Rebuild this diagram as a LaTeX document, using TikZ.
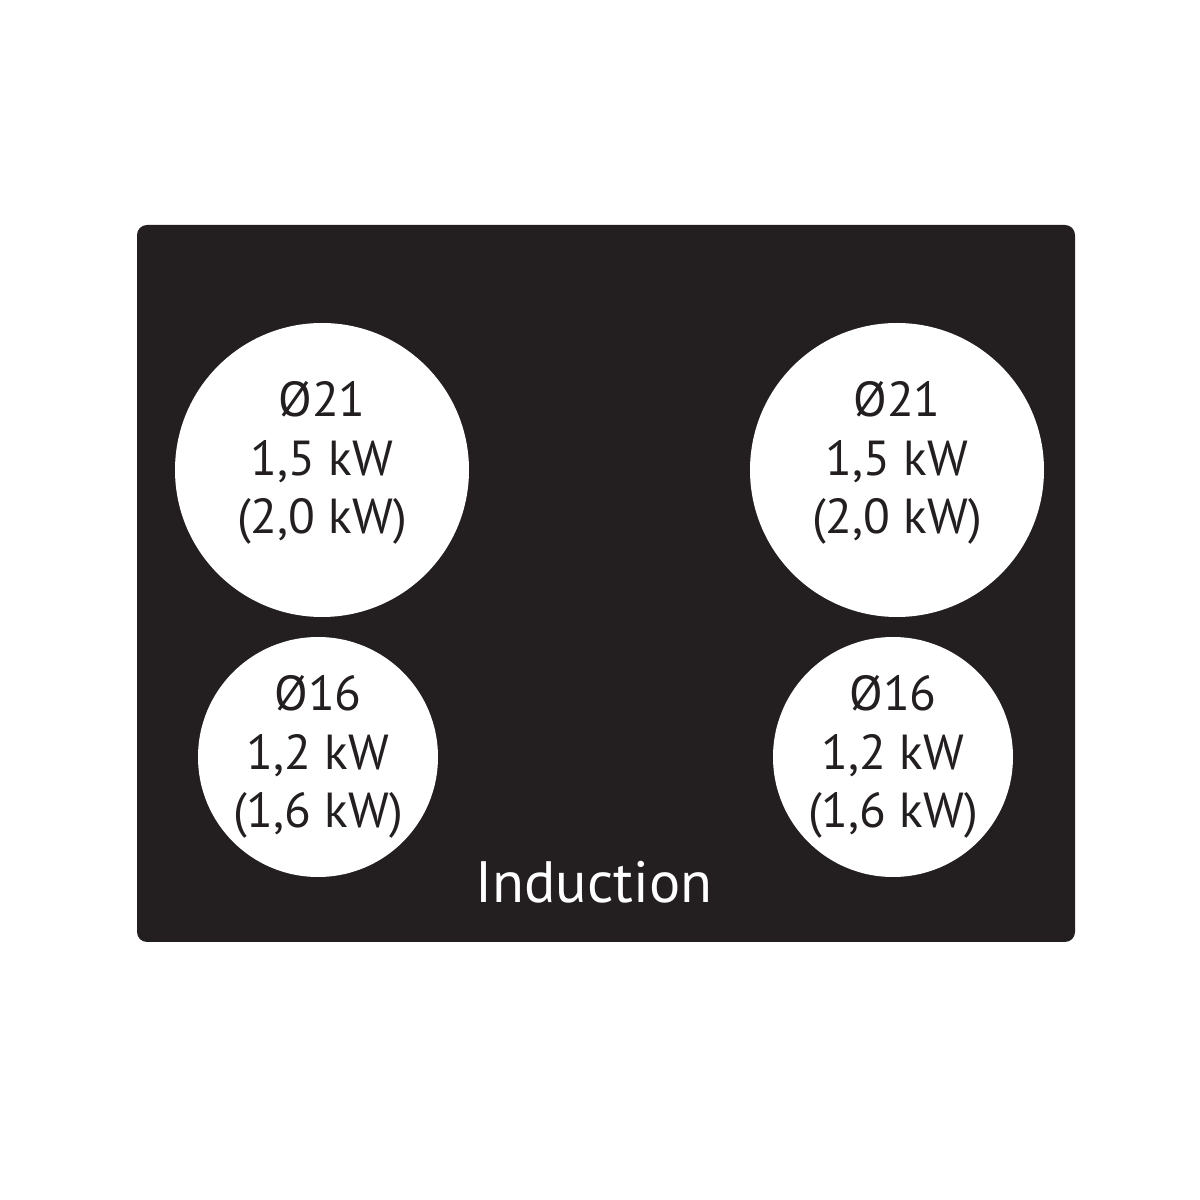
\documentclass[tikz,border=0pt]{standalone}
\usepackage{fontspec}
\setmainfont{PT Sans}
\usepackage{xcolor}
\usetikzlibrary{positioning}
\definecolor{hobblack}{HTML}{231F20}

\begin{document}
\begin{tikzpicture}[zone/.style={circle, fill=white, inner sep=0pt},
	bigzone/.style={zone, minimum size=2.94cm},
	smallzone/.style={zone, minimum size=2.40cm},
	zonetext/.style={align=center, text=hobblack, font=\fontsize{14}{16.6}\selectfont}]
			\useasboundingbox (0,0) rectangle (12,12);
			\fill[white] (0,0) rectangle (12,12);
			
			% hob plate
			\fill[hobblack, rounded corners=1mm] (1.37,2.58) rectangle (10.75,9.75);
			
			% cooking zones
			\node[bigzone] (zoneTL) at (3.22,7.30) {};
			\node[bigzone] (zoneTR) at (8.97,7.30) {};
			\node[smallzone] (zoneBL) at (3.18,4.43) {};
			\node[smallzone] (zoneBR) at (8.93,4.43) {};
			
			\node[zonetext] (txtTL) at ([yshift=0.07cm]zoneTL.center) {Ø21\\1,5 kW\\(2,0 kW)};
			\node[zonetext] (txtTR) at ([yshift=0.07cm]zoneTR.center) {Ø21\\1,5 kW\\(2,0 kW)};
			\node[zonetext] (txtBL) at (zoneBL.center) {Ø16\\1,2 kW\\(1,6 kW)};
			\node[zonetext] (txtBR) at (zoneBR.center) {Ø16\\1,2 kW\\(1,6 kW)};
			
			\node[text=white, font=\fontsize{16.6}{19}\selectfont, anchor=base] (label) at (5.94,2.97) {Induction};
			
		\end{tikzpicture}
\end{document}
